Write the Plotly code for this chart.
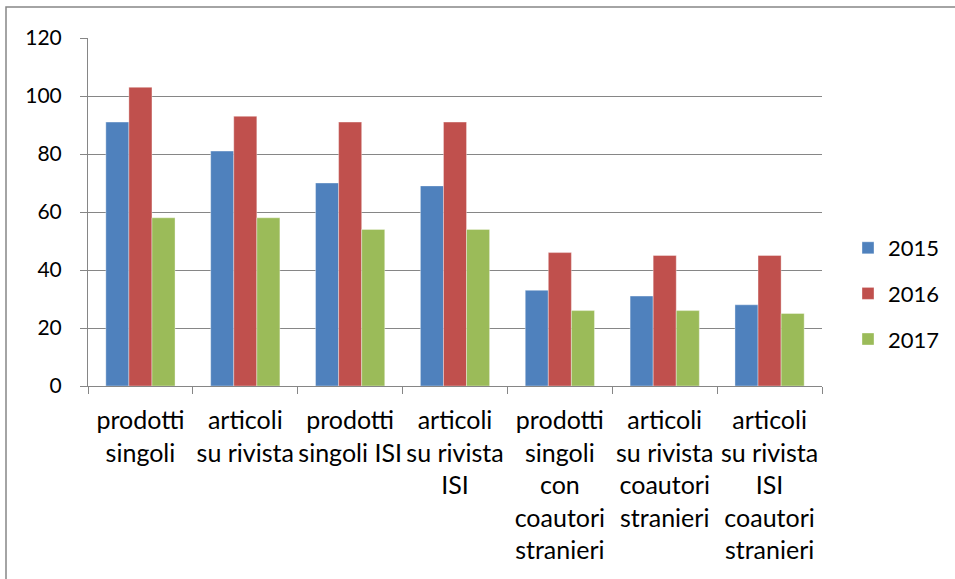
import plotly.graph_objects as go

categories = [
    "prodotti<br>singoli",
    "articoli<br>su rivista",
    "prodotti<br>singoli ISI",
    "articoli<br>su rivista<br>ISI",
    "prodotti<br>singoli<br>con<br>coautori<br>stranieri",
    "articoli<br>su rivista<br>coautori<br>stranieri",
    "articoli<br>su rivista<br>ISI<br>coautori<br>stranieri",
]
series_names = ["2015", "2016", "2017"]
values_2015 = [91, 81, 70, 69, 33, 31, 28]
values_2016 = [103, 93, 91, 91, 46, 45, 45]
values_2017 = [58, 58, 54, 54, 26, 26, 25]
colors = ["#4F81BD", "#C0504D", "#9BBB59"]
y_ticks = [0, 20, 40, 60, 80, 100, 120]

FONT = "Lato"
fig = go.Figure()
for name, vals, col in zip(series_names, [values_2015, values_2016, values_2017], colors):
    fig.add_trace(go.Bar(
        x=categories, y=vals, name=name, legendgroup=name,
        marker=dict(color=col, line=dict(color="rgba(255,255,255,0.6)", width=0.6)),
    ))

W, H = 955, 579
L, R, T, B = 88, 133, 38, 193
pw, ph = W - L - R, H - T - B

def px_x(px):
    return (px - L) / pw

def px_y(py):
    return (H - B - py) / ph

fig.update_layout(
    width=W, height=H,
    margin=dict(l=L, r=R, t=T, b=B, autoexpand=False),
    paper_bgcolor="white", plot_bgcolor="white",
    font=dict(family=FONT, size=21, color="black"),
    barmode="group", bargap=0.34, bargroupgap=0,
    showlegend=True,
    legend=dict(x=px_x(848), y=px_y(227), xanchor="left", yanchor="top",
                font=dict(size=22), tracegroupgap=14, bgcolor="rgba(0,0,0,0)"),
    xaxis=dict(
        type="category", tickson="boundaries", ticks="outside", ticklen=7,
        tickcolor="#868686", showline=True, linecolor="#868686", linewidth=1,
        showgrid=False, tickfont=dict(size=25, family=FONT), ticklabelstandoff=12,
        tickangle=0,
    ),
    yaxis=dict(
        range=[0, 120], tickvals=y_ticks, ticks="outside", ticklen=7,
        tickcolor="#868686", showline=True, linecolor="#868686", linewidth=1,
        showgrid=True, gridcolor="#868686", gridwidth=1, zeroline=False,
        tickfont=dict(size=21, family=FONT), ticklabelstandoff=14,
    ),
    shapes=[dict(type="rect", xref="paper", yref="paper",
                 x0=px_x(6), x1=px_x(1000), y0=px_y(620), y1=px_y(7),
                 line=dict(color="#868686", width=1.5), fillcolor="rgba(0,0,0,0)",
                 layer="below")],
)

fig.write_html("out.html", config={"displayModeBar": False},
               post_script="document.body.style.margin='0';document.body.style.padding='0';")
